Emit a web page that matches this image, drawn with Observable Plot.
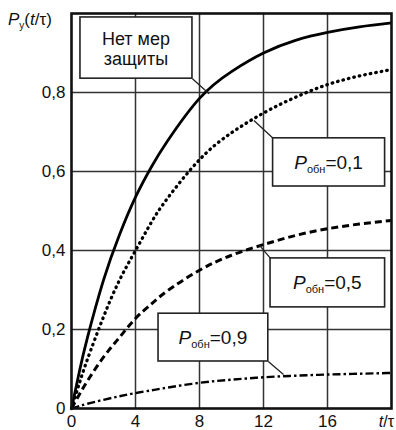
<!DOCTYPE html>
<html><head><meta charset="utf-8">
<script src="https://cdn.jsdelivr.net/npm/d3@7"></script>
<script src="https://cdn.jsdelivr.net/npm/@observablehq/plot@0.6"></script>
<style>body{margin:0;background:#fff;} svg{display:block}</style>
</head><body><div id="chart"></div>
<script>
// ---- data ----
const tValues      = [0, 0.5, 1, 2, 3, 4, 5, 6, 8, 10, 12, 14, 16, 18, 20];
const noProtection = [0, 0.095, 0.18, 0.325, 0.44, 0.535, 0.612, 0.677, 0.785, 0.853, 0.90, 0.932, 0.952, 0.966, 0.976];
const pObn01       = [0, 0.065, 0.125, 0.232, 0.325, 0.40, 0.472, 0.532, 0.63, 0.698, 0.748, 0.788, 0.82, 0.842, 0.858];
const pObn05       = [0, 0.036, 0.07, 0.13, 0.18, 0.228, 0.265, 0.298, 0.35, 0.388, 0.415, 0.438, 0.455, 0.467, 0.476];
const pObn09       = [0, 0.006, 0.012, 0.022, 0.031, 0.039, 0.046, 0.053, 0.065, 0.073, 0.079, 0.083, 0.086, 0.088, 0.09];

const xTicks = [0, 4, 8, 12, 16];
const xTickLabels = ["0", "4", "8", "12", "16"];
const yTicks = [0, 0.2, 0.4, 0.6, 0.8];
const yTickLabels = ["0", "0,2", "0,4", "0,6", "0,8"];
const xGrid = [4, 8, 12, 16];
const yGrid = [0.2, 0.4, 0.6, 0.8];

// annotation boxes (data units) and labels
const boxX1 = [0.56, 12.6, 12.44, 5.44];
const boxX2 = [7.56, 19.6, 19.6, 12.3];
const boxY1 = [0.835, 0.562, 0.256, 0.119];
const boxY2 = [0.99, 0.684, 0.38, 0.24];
const boxValues = [null, "=0,1", "=0,5", "=0,9"];
const leaderX1 = [7.56, 12.6, 12.44, 12.3];
const leaderY1 = [0.835, 0.684, 0.38, 0.119];
const leaderX2 = [8.6, 11.4, 11.75, 13.25];
const leaderY2 = [0.797, 0.729, 0.413, 0.086];

// ---- tables ----
const seriesNames = ["none", "p01", "p05", "p09"];
const seriesVals = [noProtection, pObn01, pObn05, pObn09];
const seriesStyle = {
  none: {strokeWidth: 2.8, strokeDasharray: null, cap: "butt"},
  p01:  {strokeWidth: 3.3, strokeDasharray: "0.6,5", cap: "round"},
  p05:  {strokeWidth: 3,   strokeDasharray: "7,4", cap: "butt"},
  p09:  {strokeWidth: 2.4, strokeDasharray: "8,3,2.5,3", cap: "butt"}
};
const boxes = boxX1.map((x1, i) => ({x1, x2: boxX2[i], y1: boxY1[i], y2: boxY2[i]}));
const leaders = leaderX1.map((x1, i) => ({x1, y1: leaderY1[i], x2: leaderX2[i], y2: leaderY2[i]}));

const lineMarks = seriesNames.map((name, k) =>
  Plot.line(tValues.map((t, i) => ({t, v: seriesVals[k][i]})), {
    x: "t", y: "v", curve: "natural", stroke: "#000",
    strokeWidth: seriesStyle[name].strokeWidth,
    strokeDasharray: seriesStyle[name].strokeDasharray,
    strokeLinecap: seriesStyle[name].cap
  })
);

const plot = Plot.plot({
  width: 396, height: 430,
  marginLeft: 71, marginRight: 5, marginTop: 13, marginBottom: 22,
  style: {fontFamily: "'Liberation Sans', Arial, sans-serif", fontSize: "17px", color: "#111", background: "#fff"},
  x: {domain: [0, 20], ticks: xTicks, tickFormat: d => xTickLabels[xTicks.indexOf(d)], tickSize: 0, tickPadding: 6, label: null},
  y: {domain: [0, 1], ticks: yTicks, tickFormat: d => yTickLabels[yTicks.indexOf(d)], tickSize: 0, tickPadding: 6, label: null},
  marks: [
    Plot.ruleX(xGrid, {stroke: "#333", strokeWidth: 1.5}),
    Plot.ruleY(yGrid, {stroke: "#333", strokeWidth: 1.5}),
    ...lineMarks,
    Plot.link(leaders, {x1: "x1", y1: "y1", x2: "x2", y2: "y2", stroke: "#222", strokeWidth: 1.3}),
    Plot.rect(boxes, {x1: "x1", x2: "x2", y1: "y1", y2: "y2", fill: "#fff", stroke: "#222", strokeWidth: 1.6}),
    Plot.frame({stroke: "#111", strokeWidth: 2.6})
  ]
});
document.getElementById("chart").appendChild(plot);

// ---- rich text using the plot's scales ----
const sx = plot.scale("x"), sy = plot.scale("y");
const svg = d3.select(plot);
const g = svg.append("g").attr("font-family", "'Liberation Sans', Arial, sans-serif").attr("fill", "#111");

// box 0: plain two-line text
{
  const cx = sx.apply((boxX1[0] + boxX2[0]) / 2);
  const cy = (sy.apply(boxY1[0]) + sy.apply(boxY2[0])) / 2;
  const t = g.append("text").attr("text-anchor", "middle").attr("font-size", 18);
  t.append("tspan").attr("x", cx).attr("y", cy - 3).text("Нет мер");
  t.append("tspan").attr("x", cx).attr("y", cy + 17).text("защиты");
}
// boxes 1..3: P_обн=value
for (let i = 1; i < 4; i++) {
  const cx = sx.apply((boxX1[i] + boxX2[i]) / 2);
  const cy = (sy.apply(boxY1[i]) + sy.apply(boxY2[i])) / 2;
  const t = g.append("text").attr("text-anchor", "middle").attr("x", cx).attr("y", cy + 7).attr("font-size", 19);
  t.append("tspan").attr("font-style", "italic").text("P");
  t.append("tspan").attr("font-size", 11).attr("dy", 4).text("обн");
  t.append("tspan").attr("dy", -4).text(boxValues[i]);
}
// y-axis title P_у(t/τ)
{
  const t = g.append("text").attr("text-anchor", "start").attr("x", 8).attr("y", 25).attr("font-size", 17);
  t.append("tspan").attr("font-style", "italic").text("P");
  t.append("tspan").attr("font-size", 10).attr("dy", 4).text("у");
  t.append("tspan").attr("dy", -4).text("(");
  t.append("tspan").attr("font-style", "italic").text("t");
  t.append("tspan").text("/τ)");
}
// x-axis title t/τ at the end of the axis
{
  const t = g.append("text").attr("x", sx.apply(20) + 3).attr("y", 427).attr("text-anchor", "end").attr("font-size", 16);
  t.append("tspan").attr("font-style", "italic").text("t");
  t.append("tspan").text("/τ");
}
</script>
</body></html>
